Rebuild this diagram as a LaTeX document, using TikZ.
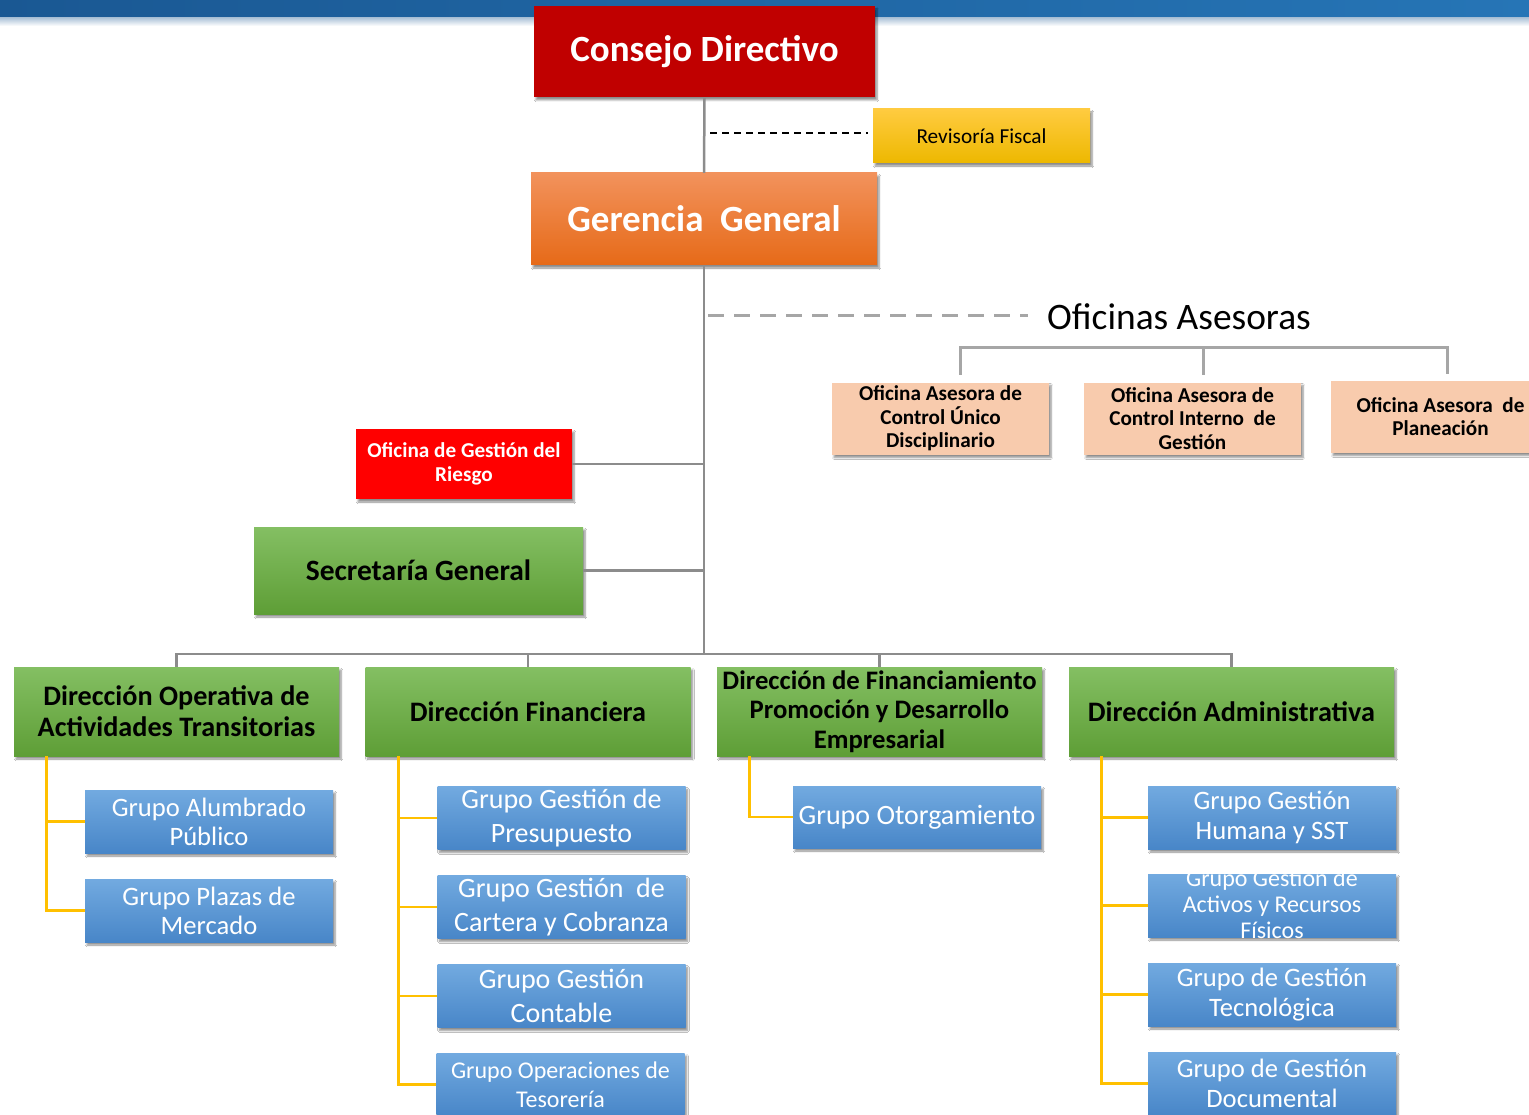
\documentclass[tikz,border=0pt]{standalone}
\usepackage{fontspec}
\setmainfont{Carlito}
\usetikzlibrary{shadows.blur}
\definecolor{barA}{HTML}{1A5893}
\definecolor{barB}{HTML}{2675B6}
\definecolor{cdred}{HTML}{C00000}
\definecolor{goldA}{HTML}{FFCB40}
\definecolor{goldB}{HTML}{EDB800}
\definecolor{orA}{HTML}{F2925C}
\definecolor{orB}{HTML}{E66A18}
\definecolor{peach}{HTML}{F8CBAD}
\definecolor{brightred}{HTML}{FF0000}
\definecolor{grA}{HTML}{84BF63}
\definecolor{grB}{HTML}{5E9E36}
\definecolor{blA}{HTML}{72AAE0}
\definecolor{blB}{HTML}{4886C8}
\definecolor{yl}{HTML}{FFC000}
\definecolor{lnA}{HTML}{8C8C8C}
\definecolor{lnB}{HTML}{A6A6A6}
\tikzset{
  boxbase/.style={inner sep=1pt, align=center,
    blur shadow={shadow xshift=2pt, shadow yshift=-3pt, shadow blur steps=6, shadow opacity=45}},
  fs/.style n args={2}{font=\fontsize{#1}{#2}\selectfont},
  fsb/.style n args={2}{font=\fontsize{#1}{#2}\selectfont\bfseries},
  topbox/.style={boxbase, minimum width=341pt, minimum height=91pt, fill=cdred, text=white, fsb={37}{42}},
  revbox/.style={boxbase, minimum width=217pt, minimum height=54pt, top color=goldA, bottom color=goldB, fs={21.3}{25}},
  gerbox/.style={boxbase, minimum width=346pt, minimum height=92pt, top color=orA, bottom color=orB, text=white, fsb={37}{42}},
  ofbox/.style={boxbase, minimum width=217pt, minimum height=72pt, fill=peach, fsb={21.2}{23.5}},
  riskbox/.style={boxbase, minimum width=216pt, minimum height=70pt, fill=brightred, text=white, fsb={21.2}{23.5}},
  greenbox/.style={boxbase, top color=grA, bottom color=grB, fsb={28.2}{31}},
  dirbox/.style={greenbox, minimum width=325pt, minimum height=89pt},
  grpbox/.style={boxbase, minimum width=248pt, minimum height=63pt, top color=blA, bottom color=blB, text=white, fs={27}{34}},
  grpsmall/.style={grpbox, fs={24}{28.5}},
  gline/.style={draw=lnA, line width=2.5pt},
  bline/.style={draw=lnB, line width=3pt},
  yline/.style={draw=yl, line width=2.8pt},
}
\begin{document}
\begin{tikzpicture}[x=1pt,y=-1pt]
\useasboundingbox (0,0) rectangle (1529,1115);
\fill[white] (0,0) rectangle (1529,1115);
% top bar
\shade[left color=barA, right color=barB] (0,0) rectangle (1529,18);
\shade[top color=barA!35, bottom color=white] (0,18) rectangle (1529,26);

% main nodes
\node[topbox] (cd) at (704.5,51.5) {Consejo Directivo};
\node[revbox] (rf) at (981.5,136) {Revisoría Fiscal};
\node[gerbox] (gg) at (704,219) {Gerencia~ General};
\node[fs={37.4}{42}] (oa) at (1179,317) {Oficinas Asesoras};
\node[ofbox] (o1) at (940.5,418.5) {Oficina Asesora de\\Control Único\\Disciplinario};
\node[ofbox] (o2) at (1192.5,418.5) {Oficina Asesora de\\Control Interno~ de\\Gestión};
\node[ofbox, minimum width=219pt] (o3) at (1440.5,416.5) {Oficina Asesora~ de\\Planeación};
\node[riskbox] (ri) at (464,464) {Oficina de Gestión del\\Riesgo};
\node[greenbox, minimum width=329pt, minimum height=87pt, fsb={29.5}{33}] (sg) at (418.5,570.5) {Secretaría General};

\node[dirbox] (d1) at (176.5,711.5) {Dirección Operativa de\\Actividades Transitorias};
\node[dirbox] (d2) at (528,711.5) {Dirección Financiera};
\node[dirbox, fsb={26.7}{29.5}] (d3) at (879.5,711.5) {Dirección de Financiamiento\\Promoción y Desarrollo\\Empresarial};
\node[dirbox] (d4) at (1231.5,711.5) {Dirección Administrativa};

\node[grpbox, fs={26.6}{29}] (g11) at (209,821.5) {Grupo Alumbrado\\Público};
\node[grpbox, fs={26.6}{29}] (g12) at (209,910.5) {Grupo Plazas de\\Mercado};
\node[grpbox, fs={28}{34}] (g21) at (561.5,818) {Grupo Gestión de\\Presupuesto};
\node[grpbox, fs={28}{34}] (g22) at (561.5,907) {Grupo Gestión~ de\\Cartera y Cobranza};
\node[grpbox, fs={28}{34}] (g23) at (561.5,996) {Grupo Gestión\\Contable};
\node[grpsmall] (g24) at (560.5,1084.5) {Grupo Operaciones de\\Tesorería};
\node[grpbox, minimum height=62pt, fs={28}{34}] (g31) at (917,817) {Grupo Otorgamiento};
\node[grpbox, fs={26.6}{30}] (g41) at (1272,817.5) {Grupo Gestión\\Humana y SST};
\node[grpsmall, fs={24}{26}] (g42) at (1272,905.5) {\smash{\raisebox{-8pt}{\begin{tabular}{@{}c@{}}Grupo Gestión de\\Activos y Recursos\\Físicos\end{tabular}}}};
\node[grpbox, fs={26.6}{30}] (g43) at (1272,994.5) {Grupo de Gestión\\Tecnológica};
\node[grpbox, fs={26.6}{30}] (g44) at (1272,1083.5) {Grupo de Gestión\\Documental};

% coordinates
\coordinate (bus) at (704,654);
\coordinate (rfstart) at (710,133);
\coordinate (oastart) at (708,316);

% grey spine
\draw[gline] (cd.south) -- (gg.north);
\draw[gline] (gg.south) -- (bus);
\draw[gline] (ri.east) -- (ri.east -| bus);
\draw[gline] (sg.east) -- (sg.east -| bus);
\draw[gline] (d1.north) -- ++(0,-13) -| (d4.north);
\draw[gline] (d2.north) -- ++(0,-13);
\draw[gline] (d3.north) -- ++(0,-13);

% dashed links
\draw[black, line width=1.8pt, dash pattern=on 7pt off 5pt] (rfstart) -- ([xshift=-5pt]rfstart -| rf.west);
\draw[bline, dash pattern=on 16pt off 10pt] (oastart) -- ([xshift=-16pt]oastart -| oa.west);

% advisory bracket
\draw[bline] ([xshift=19.5pt,yshift=7.5pt]o1.north) -- ++(0,-27) -| ([xshift=6.5pt,yshift=6pt]o3.north);
\draw[bline] ([xshift=10.5pt,yshift=7.5pt]o2.north) -- ++(0,-27);

% yellow connectors
\draw[yline] ([xshift=33pt]d1.south west) |- (g11.west);
\draw[yline] ([xshift=33pt]d1.south west) |- (g12.west);
\draw[yline] ([xshift=33pt]d2.south west) |- (g21.west);
\draw[yline] ([xshift=33pt]d2.south west) |- (g22.west);
\draw[yline] ([xshift=33pt]d2.south west) |- (g23.west);
\draw[yline] ([xshift=33pt]d2.south west) |- (g24.west);
\draw[yline] ([xshift=33pt]d3.south west) |- (g31.west);
\draw[yline] ([xshift=33pt]d4.south west) |- (g41.west);
\draw[yline] ([xshift=33pt]d4.south west) |- (g42.west);
\draw[yline] ([xshift=33pt]d4.south west) |- (g43.west);
\draw[yline] ([xshift=33pt]d4.south west) |- (g44.west);
\end{tikzpicture}
\end{document}
